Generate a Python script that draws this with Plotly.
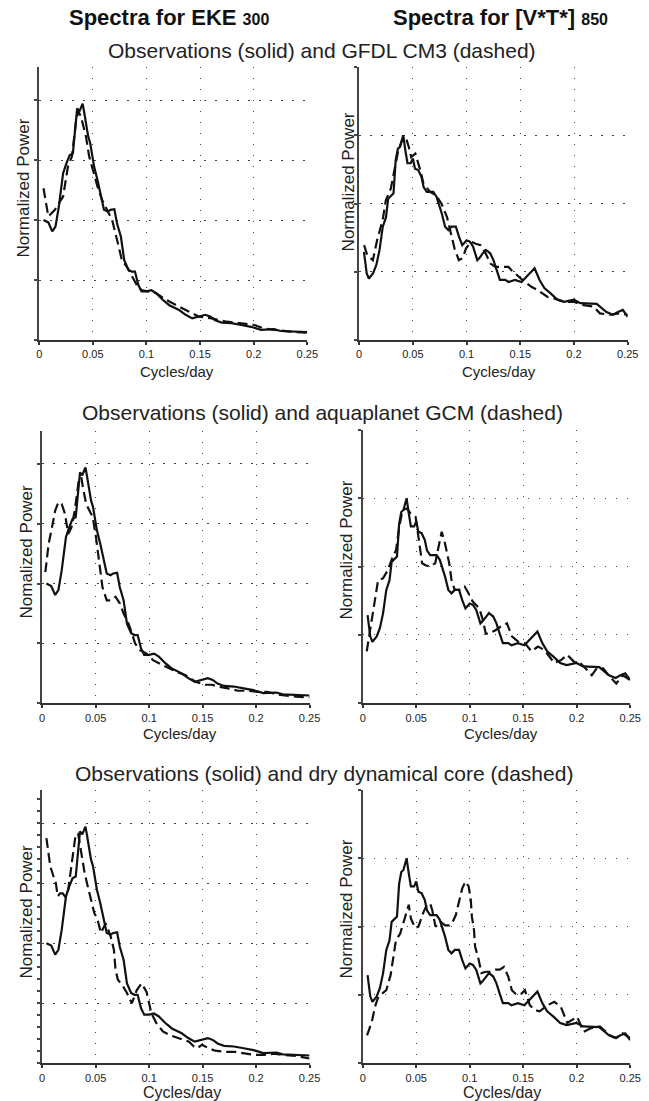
import plotly.graph_objects as go

# ---------------- data (x: cycles/day, y: normalized power in grid units) ----------------
OBS_EKE = [(0.004,2.0),(0.0085,1.96),(0.0122,1.81),(0.0152,1.89),(0.0183,2.22),(0.0223,2.78),
           (0.0253,2.94),(0.0284,3.08),(0.0314,3.11),(0.0329,3.44),(0.0354,3.86),(0.0375,3.81),
           (0.039,3.89),(0.0405,3.94),(0.0421,3.78),(0.0457,3.39),(0.0476,3.28),(0.0512,2.89),
           (0.0543,2.67),(0.0573,2.44),(0.0604,2.17),(0.064,2.14),(0.0665,2.17),(0.0701,2.18),
           (0.0726,1.94),(0.0762,1.72),(0.0793,1.33),(0.0832,1.17),(0.0863,1.14),(0.0893,1.14),
           (0.0924,0.92),(0.0954,0.81),(0.1,0.81),(0.1046,0.83),(0.1091,0.78),(0.1152,0.67),
           (0.1213,0.58),(0.1305,0.5),(0.1366,0.42),(0.1427,0.36),(0.1488,0.39),(0.1549,0.42),
           (0.1595,0.39),(0.164,0.33),(0.1701,0.29),(0.1793,0.28),(0.1884,0.25),(0.1976,0.22),
           (0.2067,0.17),(0.2128,0.17),(0.2189,0.18),(0.225,0.15),(0.2341,0.14),(0.2402,0.14),
           (0.2463,0.13),(0.25,0.13)]

GFDL_EKE = [(0.004,2.53),(0.0085,2.06),(0.0146,2.17),(0.0223,2.39),(0.0268,2.89),(0.0305,3.06),
            (0.0345,3.67),(0.0366,3.81),(0.039,3.72),(0.0436,3.39),(0.0466,3.06),(0.0497,2.86),
            (0.0543,2.56),(0.0588,2.33),(0.0634,2.17),(0.068,2.0),(0.0726,1.67),(0.0771,1.33),
            (0.0817,1.22),(0.0863,1.06),(0.0909,0.92),(0.0954,0.83),(0.1,0.81),(0.1091,0.78),
            (0.1183,0.67),(0.1274,0.58),(0.1366,0.5),(0.1488,0.39),(0.161,0.36),(0.1732,0.31),
            (0.1854,0.28),(0.2006,0.25),(0.2098,0.19),(0.222,0.16),(0.2341,0.14),(0.25,0.12)]

AQUA_EKE = [(0.003,2.19),(0.0061,2.67),(0.0092,2.94),(0.0122,3.22),(0.0152,3.36),(0.0183,3.33),
            (0.0213,3.17),(0.0244,2.83),(0.0274,2.94),(0.0305,3.22),(0.0342,3.72),(0.0366,3.78),
            (0.0381,3.61),(0.0412,3.33),(0.0442,3.22),(0.0473,3.11),(0.0503,2.78),(0.0534,2.33),
            (0.0564,1.94),(0.0604,1.72),(0.064,1.72),(0.0686,1.78),(0.0726,1.67),(0.0762,1.5),
            (0.0808,1.33),(0.0839,1.17),(0.0869,1.0),(0.0915,0.89),(0.0976,0.83),(0.1037,0.72),
            (0.1098,0.67),(0.1159,0.61),(0.125,0.53),(0.1342,0.47),(0.1433,0.36),(0.1525,0.31),
            (0.1586,0.31),(0.1647,0.28),(0.1738,0.25),(0.183,0.21),(0.1921,0.21),(0.2013,0.19),
            (0.2104,0.19),(0.2226,0.14),(0.2379,0.11),(0.25,0.1)]

DRY_EKE = [(0.004,3.75),(0.0061,3.5),(0.0076,3.28),(0.0107,3.11),(0.0128,3.0),(0.0146,2.78),
           (0.0168,2.83),(0.0192,2.83),(0.0214,2.78),(0.0244,2.89),(0.0275,3.33),(0.029,3.5),
           (0.0311,3.78),(0.0336,3.83),(0.0366,3.5),(0.0397,3.17),(0.0427,2.94),(0.0458,2.72),
           (0.0488,2.5),(0.0519,2.39),(0.0549,2.17),(0.0595,2.33),(0.0641,2.11),(0.0671,1.89),
           (0.0686,1.56),(0.0708,1.39),(0.0747,1.31),(0.0793,1.17),(0.0839,1.0),(0.0885,1.22),
           (0.093,1.33),(0.0976,1.19),(0.1022,0.83),(0.1068,0.67),(0.1129,0.53),(0.119,0.47),
           (0.1281,0.42),(0.1373,0.36),(0.1418,0.28),(0.1449,0.25),(0.1495,0.31),(0.1556,0.25),
           (0.1617,0.21),(0.1708,0.19),(0.18,0.19),(0.1891,0.16),(0.1983,0.14),(0.2074,0.14),
           (0.2166,0.16),(0.2257,0.14),(0.2379,0.12),(0.25,0.08)]

OBS_VT = [(0.0045,1.29),(0.007,0.98),(0.009,0.90),(0.013,0.98),(0.016,1.10),(0.019,1.32),
          (0.022,1.66),(0.025,1.80),(0.027,2.07),(0.030,2.12),(0.032,2.15),(0.034,2.63),
          (0.036,2.80),(0.038,2.83),(0.041,3.0),(0.043,2.78),(0.045,2.59),(0.048,2.59),
          (0.050,2.66),(0.052,2.51),(0.055,2.49),(0.058,2.39),(0.060,2.24),(0.063,2.17),
          (0.066,2.17),(0.069,2.17),(0.072,2.10),(0.074,2.0),(0.077,1.85),(0.080,1.66),
          (0.083,1.61),(0.086,1.66),(0.090,1.66),(0.093,1.51),(0.096,1.39),(0.100,1.46),
          (0.103,1.44),(0.106,1.37),(0.110,1.17),(0.112,1.20),(0.115,1.27),(0.118,1.32),
          (0.122,1.27),(0.125,1.17),(0.128,1.02),(0.131,0.88),(0.136,0.88),(0.139,0.85),
          (0.145,0.88),(0.1511,0.85),(0.1542,0.90),(0.1588,0.98),(0.1633,1.05),(0.1679,0.88),
          (0.1724,0.76),(0.1785,0.68),(0.1846,0.59),(0.1907,0.56),(0.1998,0.59),(0.2059,0.54),
          (0.2119,0.54),(0.2211,0.53),(0.2302,0.41),(0.2363,0.37),(0.2409,0.41),(0.2454,0.44),
          (0.25,0.34)]

GFDL_VT = [(0.0046,1.39),(0.0076,1.24),(0.0128,1.17),(0.0167,1.46),(0.0219,1.76),(0.0249,2.05),
           (0.0295,2.22),(0.0331,2.54),(0.0362,2.76),(0.0401,2.93),(0.0432,2.98),(0.0462,2.83),
           (0.0484,2.68),(0.0523,2.73),(0.0569,2.49),(0.0599,2.29),(0.066,2.17),(0.0715,2.12),
           (0.0766,2.0),(0.0818,1.80),(0.0858,1.56),(0.0888,1.34),(0.0928,1.17),(0.0964,1.20),
           (0.0994,1.34),(0.104,1.44),(0.1086,1.41),(0.1131,1.39),(0.1177,1.27),(0.1222,1.12),
           (0.1268,1.07),(0.1314,1.07),(0.139,1.07),(0.142,1.02),(0.1481,0.93),(0.1542,0.85),
           (0.1603,0.78),(0.1664,0.73),(0.1754,0.63),(0.1815,0.61),(0.1907,0.56),(0.1998,0.56),
           (0.2089,0.51),(0.218,0.49),(0.2241,0.39),(0.2333,0.37),(0.2424,0.39),(0.25,0.37)]

AQUA_VT = [(0.0037,0.76),(0.0082,1.20),(0.0143,1.80),(0.0189,1.83),(0.0235,1.95),(0.0281,2.15),
           (0.0311,2.24),(0.0342,2.59),(0.0372,2.83),(0.0412,2.85),(0.0448,2.78),(0.0494,2.73),
           (0.0525,2.39),(0.0555,2.05),(0.0586,2.02),(0.0631,2.0),(0.0677,2.05),(0.0708,2.29),
           (0.0738,2.51),(0.0769,2.34),(0.0808,2.05),(0.083,1.80),(0.086,1.66),(0.0906,1.66),
           (0.0952,1.71),(0.0982,1.63),(0.1028,1.49),(0.1089,1.39),(0.1119,1.24),(0.115,1.02),
           (0.118,1.02),(0.1241,1.07),(0.1287,1.12),(0.1348,1.17),(0.1394,0.98),(0.1455,0.90),
           (0.1516,0.88),(0.1577,0.76),(0.1638,0.83),(0.1699,0.78),(0.1745,0.68),(0.179,0.59),
           (0.1851,0.63),(0.1912,0.71),(0.1973,0.61),(0.2034,0.59),(0.2095,0.49),(0.2141,0.41),
           (0.2187,0.51),(0.2248,0.51),(0.2309,0.39),(0.237,0.29),(0.2431,0.41),(0.25,0.34)]

DRY_VT = [(0.004,0.41),(0.0085,0.61),(0.0115,0.83),(0.014,0.95),(0.018,1.02),(0.022,1.07),
          (0.026,1.29),(0.028,1.51),(0.031,1.80),(0.035,1.90),(0.039,2.10),(0.043,2.32),
          (0.045,2.12),(0.049,1.98),(0.052,2.0),(0.055,2.15),(0.057,2.22),(0.060,2.32),
          (0.063,2.34),(0.065,2.24),(0.068,2.0),(0.073,2.07),(0.077,2.02),(0.081,2.02),
          (0.084,2.07),(0.087,2.17),(0.090,2.37),(0.093,2.56),(0.096,2.66),(0.099,2.59),
          (0.101,2.39),(0.102,2.15),(0.104,1.95),(0.105,1.71),(0.108,1.54),(0.111,1.32),
          (0.115,1.34),(0.119,1.34),(0.124,1.37),(0.128,1.37),(0.132,1.41),(0.136,1.27),
          (0.1394,1.07),(0.144,1.0),(0.1485,1.02),(0.1516,1.07),(0.1562,0.85),(0.1607,0.78),
          (0.1653,0.76),(0.1729,0.85),(0.179,0.90),(0.1851,0.83),(0.1912,0.59),(0.1958,0.63),
          (0.2004,0.68),(0.2065,0.46),(0.2126,0.51),(0.2217,0.54),(0.2309,0.41),(0.237,0.37),
          (0.2431,0.44),(0.25,0.37)]

X_TICKS = [0, 0.05, 0.1, 0.15, 0.2, 0.25]
X_TICK_TEXT = ["0", "0.05", "0.1", "0.15", "0.2", "0.25"]
COL_TITLES = ["<b>Spectra for EKE <span style='font-size:16px'>300</span></b>",
              "<b>Spectra for [V*T*] <span style='font-size:16px'>850</span></b>"]
ROW_TITLES = ["Observations (solid) and GFDL CM3 (dashed)",
              "Observations (solid) and aquaplanet GCM (dashed)",
              "Observations (solid) and dry dynamical core (dashed)"]
Y_TITLES = [["Normalized Power", "Normalized Power"],
            ["Nomalized Power", "Normalized Power"],
            ["Nomalized Power", "Normalized Power"]]
X_TITLE = "Cycles/day"
MODELS = [[GFDL_EKE, GFDL_VT], [AQUA_EKE, AQUA_VT], [DRY_EKE, DRY_VT]]
OBS = [OBS_EKE, OBS_VT]
Y_TOP = [4.55, 4.0]

# ---------------- layout (pixels) ----------------
W, H = 649, 1101
FONT = "Liberation Sans, Arial, sans-serif"
# panel boxes: (left, right, top, bottom) in px
BOX = [[(37, 311, 67, 340), (364, 638.5, 67, 340)],
       [(40, 313.3, 431, 703.3), (367.7, 641, 430, 703.3)],
       [(40, 313.3, 790, 1063.3), (367.7, 641, 790, 1063.3)]]
YT_POS = [[(21, 188), (353, 182)], [(24, 551), (351, 550)], [(24, 911), (351, 909)]]
XT_POS = [[(178, 371), (507, 371)], [(181, 733), (509, 733)], [(183, 1092), (510, 1092)]]
XT_SIZE = [15, 15, 16]
SUB_POS = [(326, 50), (327, 412), (328, 773)]
TITLE_POS = [(170, 17), (508, 17)]

fig = go.Figure()
layout = dict(width=W, height=H, margin=dict(l=0, r=0, t=0, b=0),
              paper_bgcolor="white", plot_bgcolor="white", showlegend=False,
              font=dict(family=FONT, color="#222"))
annotations = []

def px(x):
    return x / W

def py(y):
    return 1 - y / H

n = 0
for r in range(3):
    for c in range(2):
        n += 1
        xa = "xaxis" if n == 1 else f"xaxis{n}"
        ya = "yaxis" if n == 1 else f"yaxis{n}"
        xr = "x" if n == 1 else f"x{n}"
        yr = "y" if n == 1 else f"y{n}"
        l, rt, t, b = BOX[r][c]
        grid = dict(showgrid=True, gridcolor="#444", gridwidth=1.4, griddash="1.4px,9.6px")
        layout[xa] = dict(domain=[px(l), px(rt)], anchor=yr, range=[0, 0.25],
                          tickvals=X_TICKS, ticktext=X_TICK_TEXT, showline=True,
                          linecolor="#333", linewidth=2, ticks="outside", ticklen=3,
                          tickwidth=1.5, tickcolor="#333", zeroline=False,
                          tickfont=dict(size=11, color="#222"), **grid)
        ydict = dict(domain=[py(b), py(t)], anchor=xr, range=[0, Y_TOP[c]], dtick=1,
                     tick0=0, showticklabels=False, showline=True, linecolor="#444",
                     linewidth=2, ticks="outside", ticklen=3, tickwidth=1.5,
                     tickcolor="#444", zeroline=False, **grid)
        if r == 2 and c == 0:
            ydict["minor"] = dict(dtick=0.2, ticks="outside", ticklen=3, tickcolor="#444",
                                  showgrid=False)
        layout[ya] = ydict

        obs = OBS[c]
        mod = MODELS[r][c]
        fig.add_trace(go.Scatter(x=[p[0] for p in obs], y=[p[1] for p in obs], mode="lines",
                                 line=dict(color="#111", width=2.2), xaxis=xr, yaxis=yr,
                                 hoverinfo="skip"))
        fig.add_trace(go.Scatter(x=[p[0] for p in mod], y=[p[1] for p in mod], mode="lines",
                                 line=dict(color="#111", width=2.2, dash="10px,5px"),
                                 xaxis=xr, yaxis=yr, hoverinfo="skip"))

        yx, yy = YT_POS[r][c]
        annotations.append(dict(text=Y_TITLES[r][c], x=px(yx), y=py(yy), xref="paper",
                                yref="paper", textangle=-90, showarrow=False,
                                xanchor="center", yanchor="middle",
                                font=dict(size=17, color="#222")))
        xx, xy = XT_POS[r][c]
        annotations.append(dict(text=X_TITLE, x=px(xx), y=py(xy), xref="paper", yref="paper",
                                showarrow=False, xanchor="center", yanchor="middle",
                                font=dict(size=XT_SIZE[r], color="#222")))
    sx, sy = SUB_POS[r]
    annotations.append(dict(text=ROW_TITLES[r], x=px(sx), y=py(sy), xref="paper", yref="paper",
                            showarrow=False, xanchor="center", yanchor="middle",
                            font=dict(size=21, color="#222")))

for c in range(2):
    tx, ty = TITLE_POS[c]
    annotations.append(dict(text=COL_TITLES[c], x=px(tx), y=py(ty), xref="paper", yref="paper",
                            showarrow=False, xanchor="center", yanchor="middle",
                            font=dict(size=22, color="#111")))

layout["annotations"] = annotations
fig.update_layout(**layout)
fig.write_html("out.html")
